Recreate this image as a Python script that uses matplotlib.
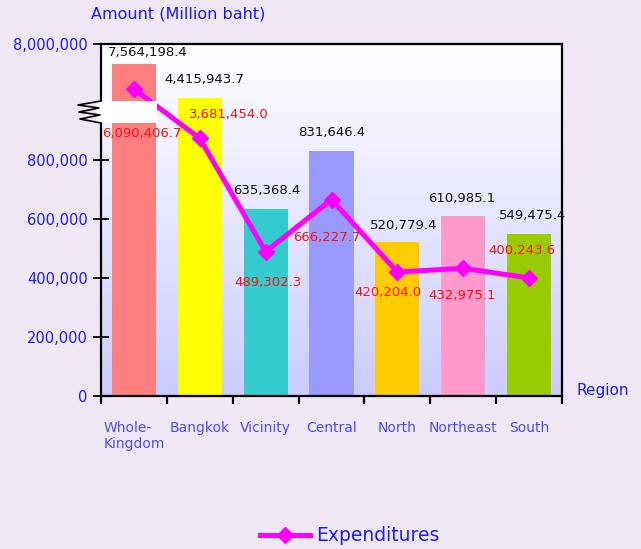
import numpy as np
import matplotlib.pyplot as plt
from matplotlib.lines import Line2D
from matplotlib.patches import Rectangle

# data
regions = ['Whole-\nKingdom', 'Bangkok', 'Vicinity', 'Central', 'North', 'Northeast', 'South']
amount = [7564198.4, 4415943.7, 635368.4, 831646.4, 520779.4, 610985.1, 549475.4]
expend = [6090406.7, 3681454.0, 489302.3, 666227.7, 420204.0, 432975.1, 400243.6]
bar_colors = ['#ff7f7f', '#ffff00', '#33cccc', '#9999ff', '#ffcc00', '#ff99cc', '#99cc00']
yticks = [0, 200000, 400000, 600000, 800000, 8000000]

# broken axis: piecewise linear scale (value -> pixel height)
brk_v = np.array([0, 850000, 3600000, 4400000, 6100000, 7600000, 8000000])
brk_h = np.array([0, 250.7, 253, 298, 307, 333, 352])

def fwd(v):
    return np.interp(v, brk_v, brk_h)

def inv(h):
    return np.interp(h, brk_h, brk_v)

W, H = 641, 549
bg = '#efe7f4'
blue = '#1a1aff'
fig = plt.figure(figsize=(W/100, H/100), dpi=100, facecolor=bg)
ax = fig.add_axes([101/W, 1-396/H, 461/W, 352/H])
ax.set_yscale('function', functions=(fwd, inv))
ax.set_ylim(0, 8000000)
ax.set_xlim(-0.5, 6.5)

# gradient background
grad = np.linspace(0, 1, 256).reshape(-1, 1)
top = np.array([1.0, 1.0, 1.0])
bot = np.array([0.8, 0.8, 1.0])
img = top + (bot - top) * grad[:, :, None]
ax.imshow(img, extent=[0, 1, 0, 1], transform=ax.transAxes, aspect='auto', zorder=0)

x = np.arange(len(regions))
ax.bar(x, amount, width=0.67, color=bar_colors, zorder=2)
ax.plot(x, expend, color='#ff00ff', lw=3.6, marker='D', ms=8, zorder=3,
        label='Expenditures')

amt_off = [(14, 11), (5, 18), (1, 18), (0, 18), (6, 17), (-1, 17), (3, 18)]
for i, v in enumerate(amount):
    ax.annotate(f'{v:,.1f}', (i, v), xytext=amt_off[i], textcoords='offset pixels',
                ha='center', va='center', fontsize=9.5, color='#111111', zorder=5)

exp_off = [(8, -44), (29, 24), (2, -31), (-5, -38), (-9, -20), (-1, -27), (-7, 27)]
for i, v in enumerate(expend):
    ax.annotate(f'{v:,.1f}', (i, v), xytext=exp_off[i], textcoords='offset pixels',
                ha='center', va='center', fontsize=9.5, color='#ff1010', zorder=5)

# axes styling
for s in ['left', 'right', 'top', 'bottom']:
    ax.spines[s].set_linewidth(1.6)
ax.set_yticks(yticks)
ax.set_yticklabels([f'{t:,}' for t in yticks], color=blue, fontsize=10.5)
ax.tick_params(axis='y', direction='inout', length=11, width=1.3, pad=4)
ax.set_xticks(np.arange(-0.5, 7, 1))
ax.set_xticklabels([])
ax.tick_params(axis='x', direction='out', length=6, width=1.6)
for i, r in enumerate(regions):
    ax.text(i, -0.07, r, transform=ax.get_xaxis_transform(), ha='center', va='top',
            multialignment='left', fontsize=10, color='#4d4df0')

fig.text(91/W, 1-14/H, 'Amount (Million baht)', color=blue, fontsize=11.5, va='center')
fig.text(577/W, 1-390/H, 'Region', color=blue, fontsize=11, va='center')

# break marker
ax.add_patch(Rectangle((-0.57, 273/352), 0.92, 22/352, transform=ax.get_xaxis_transform(),
                       facecolor='white', edgecolor='none', clip_on=False, zorder=10))
zx = np.array([101, 78, 99, 79, 100, 80, 101])
zy = np.array([101, 105, 108, 112, 115, 119, 123])
fig.add_artist(Line2D(zx/W, 1-zy/H, color='black', lw=1.2, zorder=11))

leg = fig.legend(loc='lower center', bbox_to_anchor=(0.545, -0.024), frameon=False,
                 fontsize=13.5, handlelength=2.7, handletextpad=0.3)
for t in leg.get_texts():
    t.set_color(blue)

fig.savefig('out.png', dpi=100, facecolor=bg)
